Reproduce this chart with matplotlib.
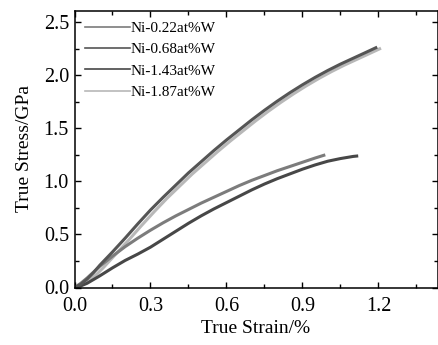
import matplotlib
matplotlib.use("Agg")
import matplotlib.pyplot as plt
from matplotlib.lines import Line2D
from matplotlib.ticker import MultipleLocator

plt.rcParams["font.family"] = ["Liberation Serif", "DejaVu Serif"]

# Values (strain in %, stress in GPa)
labels = ["Ni-0.22at%W", "Ni-0.68at%W", "Ni-1.43at%W", "Ni-1.87at%W"]
colors = ["#7c7c7c", "#555555", "#474747", "#b8b8b8"]

strain_022 = [0, 0.025, 0.05, 0.075, 0.1, 0.15, 0.2, 0.25, 0.3, 0.35, 0.4, 0.45,
              0.5, 0.55, 0.6, 0.65, 0.7, 0.75, 0.8, 0.85, 0.9, 0.95, 0.99]
stress_022 = [0, 0.04, 0.09, 0.145, 0.2, 0.295, 0.385, 0.465, 0.54, 0.61, 0.675, 0.735,
              0.795, 0.85, 0.905, 0.96, 1.01, 1.055, 1.10, 1.14, 1.18, 1.22, 1.25]

strain_068 = [0, 0.025, 0.05, 0.075, 0.1, 0.15, 0.2, 0.25, 0.3, 0.35, 0.4, 0.45, 0.5,
              0.55, 0.6, 0.65, 0.7, 0.75, 0.8, 0.85, 0.9, 0.95, 1.0, 1.05, 1.1, 1.15, 1.195]
stress_068 = [0, 0.03, 0.08, 0.14, 0.21, 0.335, 0.465, 0.6, 0.73, 0.85, 0.965, 1.08, 1.185,
              1.29, 1.39, 1.485, 1.58, 1.67, 1.755, 1.835, 1.91, 1.98, 2.045, 2.105, 2.16, 2.215, 2.265]

strain_143 = [0, 0.025, 0.05, 0.075, 0.1, 0.15, 0.2, 0.25, 0.3, 0.35, 0.4, 0.45, 0.5,
              0.55, 0.6, 0.65, 0.7, 0.75, 0.8, 0.85, 0.9, 0.95, 1.0, 1.05, 1.1, 1.12]
stress_143 = [0, 0.015, 0.04, 0.075, 0.11, 0.185, 0.255, 0.315, 0.38, 0.455, 0.53, 0.605, 0.675,
              0.74, 0.80, 0.86, 0.92, 0.975, 1.025, 1.07, 1.115, 1.155, 1.19, 1.215, 1.235, 1.24]

strain_187 = [0, 0.03, 0.06, 0.09, 0.115, 0.165, 0.215, 0.265, 0.315, 0.365, 0.415, 0.465, 0.515,
              0.565, 0.615, 0.665, 0.715, 0.765, 0.815, 0.865, 0.915, 0.965, 1.015, 1.065, 1.115, 1.165, 1.21]
stress_187 = [0, 0.03, 0.07, 0.13, 0.19, 0.32, 0.45, 0.585, 0.715, 0.84, 0.955, 1.07, 1.175,
              1.28, 1.38, 1.475, 1.57, 1.66, 1.745, 1.825, 1.9, 1.97, 2.035, 2.095, 2.15, 2.205, 2.255]

curves = [
    (strain_022, stress_022),
    (strain_068, stress_068),
    (strain_143, stress_143),
    (strain_187, stress_187),
]

fig = plt.figure(figsize=(4.38, 3.45), dpi=100)
ax = fig.add_axes([74.5 / 438, (345 - 287.5) / 345, (437.5 - 74.5) / 438, (287.5 - 10.5) / 345])

# light curve first so the dark 0.68 line sits on top of it
order = [3, 0, 2, 1]
for i in order:
    x, y = curves[i]
    ax.plot(x, y, color=colors[i], linewidth=2.2, solid_capstyle="butt", solid_joinstyle="round")

ax.set_xlim(0, 1.433)
ax.set_ylim(0, 2.61)
ax.xaxis.set_major_locator(MultipleLocator(0.3))
ax.xaxis.set_minor_locator(MultipleLocator(0.15))
ax.yaxis.set_major_locator(MultipleLocator(0.5))
ax.yaxis.set_minor_locator(MultipleLocator(0.25))
ax.xaxis.set_major_formatter(plt.FormatStrFormatter("%.1f"))
ax.yaxis.set_major_formatter(plt.FormatStrFormatter("%.1f"))
ax.tick_params(which="both", direction="in", top=True, right=True, width=1.0, labelsize=14.5)
ax.tick_params(axis="x", pad=7)
ax.tick_params(axis="y", pad=4)
ax.tick_params(which="major", length=4)
ax.tick_params(which="minor", length=3)
for sp in ax.spines.values():
    sp.set_linewidth(1.1)

ax.set_xlabel("True Strain/%", fontsize=14, labelpad=3)
ax.set_ylabel("True Stress/GPa", fontsize=14, labelpad=8)

handles = [Line2D([], [], color=c, linewidth=1.2) for c in colors]
ax.legend(
    handles,
    labels,
    loc="upper left",
    bbox_to_anchor=(0.0, 1.0),
    frameon=False,
    fontsize=11,
    handlelength=2.9,
    handletextpad=0.1,
    labelspacing=0.5,
    borderaxespad=0.3,
)

plt.savefig("out.png", dpi=100)
plt.close()
